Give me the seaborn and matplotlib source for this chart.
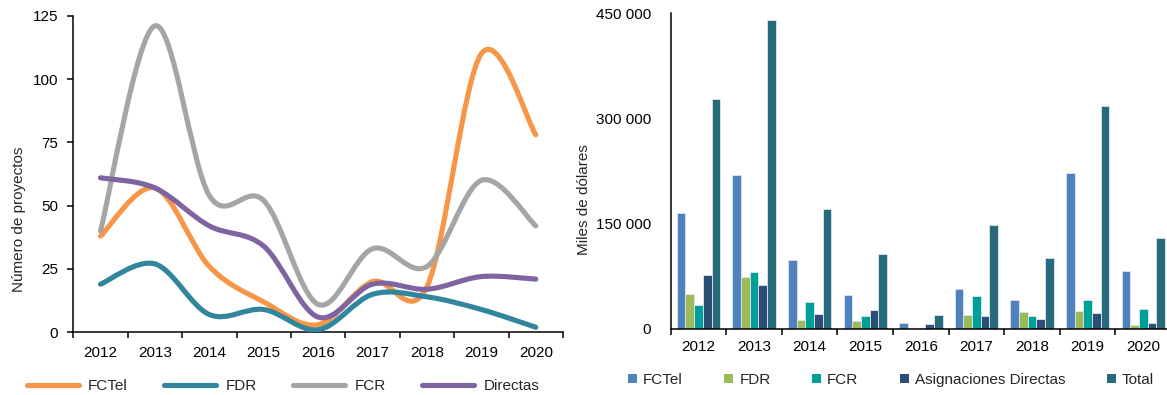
import numpy as np
import pandas as pd
import matplotlib
matplotlib.use("Agg")
import matplotlib.pyplot as plt
import seaborn as sns
from matplotlib.path import Path
from matplotlib.patches import PathPatch, Patch
from matplotlib.lines import Line2D
from matplotlib.ticker import FuncFormatter, FixedLocator

# ---- data -------------------------------------------------------------
years = ["2012", "2013", "2014", "2015", "2016", "2017", "2018", "2019", "2020"]

# number of projects per fund
proj_fctel = [38, 57, 26, 12, 3, 20, 18, 110, 78]
proj_fdr = [19, 27, 7, 9, 1, 15, 14, 9, 2]
proj_fcr = [40, 121, 54, 52, 11, 33, 26, 60, 42]
proj_directas = [61, 57, 42, 34, 6, 19, 17, 22, 21]

# amounts, thousands of dollars
usd_fctel = [165000, 220000, 98500, 48500, 8500, 57000, 41500, 222000, 82000]
usd_fdr = [49500, 74500, 13500, 11500, 800, 20500, 23500, 26000, 5000]
usd_fcr = [33500, 81000, 37800, 18000, 2000, 47500, 19000, 42000, 29000]
usd_asig = [77500, 62500, 21000, 27000, 7500, 19000, 14800, 22800, 8500]
usd_total = [327000, 439500, 171500, 107000, 20500, 148000, 101500, 317000, 129500]

line_series = [
    ("FCTel", proj_fctel, "#F79646"),
    ("FDR", proj_fdr, "#31859C"),
    ("FCR", proj_fcr, "#A5A5A5"),
    ("Directas", proj_directas, "#8064A2"),
]
bar_series = [
    ("FCTel", usd_fctel, "#4F81BD"),
    ("FDR", usd_fdr, "#9BBB59"),
    ("FCR", usd_fcr, "#00A099"),
    ("Asignaciones Directas", usd_asig, "#2C4D75"),
    ("Total", usd_total, "#276A7C"),
]

# ---- style ------------------------------------------------------------
sns.set_theme(style="white")
plt.rcParams["font.family"] = ["Liberation Sans", "DejaVu Sans"]
plt.rcParams["axes.linewidth"] = 1.1
FS = 11

W, H = 1167, 395
fig = plt.figure(figsize=(W / 100, H / 100), dpi=100)


def px_axes(x0, x1, ytop, ybot):
    return fig.add_axes([x0 / W, 1 - ybot / H, (x1 - x0) / W, (ybot - ytop) / H])


def smooth_path(xs, ys):
    """Bezier path through the points with Catmull-Rom style tangents."""
    pts = np.column_stack([xs, ys]).astype(float)
    n = len(pts)
    verts = [pts[0]]
    codes = [Path.MOVETO]
    for i in range(n - 1):
        p0 = pts[i - 1] if i > 0 else pts[i]
        p1 = pts[i]
        p2 = pts[i + 1]
        p3 = pts[i + 2] if i + 2 < n else pts[i + 1]
        c1 = p1 + (p2 - p0) / 6.0
        c2 = p2 - (p3 - p1) / 6.0
        verts += [c1, c2, p2]
        codes += [Path.CURVE4] * 3
    return Path(verts, codes)


def style_axes(ax):
    sns.despine(ax=ax)
    for s in ("left", "bottom"):
        ax.spines[s].set_color("black")
    ax.set_xlim(-0.5, len(years) - 0.5)
    ax.xaxis.set_major_locator(FixedLocator(range(len(years))))
    ax.set_xticklabels(years)
    ax.xaxis.set_minor_locator(FixedLocator(np.arange(len(years) + 1) - 0.5))
    ax.tick_params(axis="x", which="major", length=0, labelsize=FS, colors="black")
    ax.tick_params(axis="x", which="minor", length=4, width=1.1, direction="out",
                   color="black", bottom=True)
    ax.set_xlabel("")
    ax.set_ylabel("")


# ---- left: number of projects ----------------------------------------
ax1 = px_axes(73.3, 563, 15.7, 332.3)
xpos = np.arange(len(years))
for name, vals, col in line_series:
    ax1.add_patch(PathPatch(smooth_path(xpos, vals), facecolor="none",
                            edgecolor=col, lw=3.7, capstyle="round",
                            joinstyle="round", zorder=3))
style_axes(ax1)
ax1.set_ylim(0, 125)
ax1.set_yticks([0, 25, 50, 75, 100, 125])
ax1.tick_params(axis="y", length=4, width=1.1, direction="out", left=True,
                labelsize=FS, pad=7, colors="black")
ax1.tick_params(axis="x", which="major", pad=10)
fig.text(19 / W, 1 - 219 / H, "Número de proyectos", rotation=90,
         ha="center", va="center", fontsize=FS)

line_handles = [Line2D([], [], color=c, lw=3.7, solid_capstyle="round")
                for _, _, c in line_series]
fig.legend(line_handles, [n for n, _, _ in line_series], loc="center",
           bbox_to_anchor=(283 / W, 1 - 386 / H), ncol=4, frameon=False,
           fontsize=FS, handlelength=3.4, handletextpad=0.6, columnspacing=2.4,
           borderaxespad=0, borderpad=0)

# ---- right: amounts ---------------------------------------------------
ax2 = px_axes(670.7, 1171, 13, 329)
df = pd.DataFrame({
    "year": np.tile(years, len(bar_series)),
    "serie": np.repeat([n for n, _, _ in bar_series], len(years)),
    "valor": np.concatenate([v for _, v, _ in bar_series]),
})
sns.barplot(data=df, x="year", y="valor", hue="serie", order=years,
            hue_order=[n for n, _, _ in bar_series],
            palette=[c for _, _, c in bar_series], width=0.78, gap=0,
            edgecolor="#dce6f0", linewidth=0.6, saturation=1, ax=ax2,
            legend=False, errorbar=None)
style_axes(ax2)
ax2.set_ylim(0, 450000)
ax2.set_yticks([0, 150000, 300000, 450000])
ax2.yaxis.set_major_formatter(
    FuncFormatter(lambda v, p: f"{int(v):,}".replace(",", " ")))
ax2.tick_params(axis="y", length=0, labelsize=FS, pad=14, colors="black")
ax2.tick_params(axis="x", which="major", pad=8)
fig.text(584 / W, 1 - 200 / H, "Miles de dólares", rotation=90,
         ha="center", va="center", fontsize=FS)

bar_handles = [Patch(facecolor=c, edgecolor="none") for _, _, c in bar_series]
fig.legend(bar_handles, [n for n, _, _ in bar_series], loc="center",
           bbox_to_anchor=(891 / W, 1 - 380 / H), ncol=5, frameon=False,
           fontsize=FS, handlelength=0.6, handleheight=0.6, handletextpad=0.4,
           columnspacing=2.7, borderaxespad=0, borderpad=0)

fig.savefig("out.png", dpi=100)
